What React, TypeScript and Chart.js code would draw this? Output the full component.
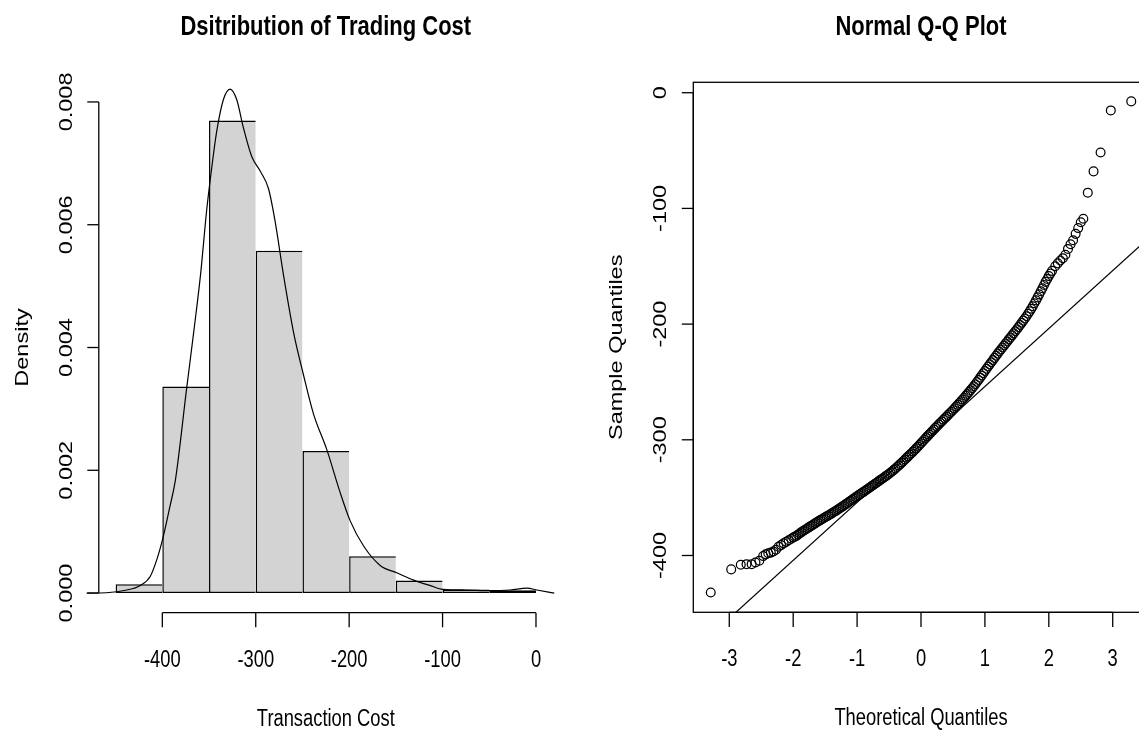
import React, { useEffect, useRef } from "react";
import { Chart, registerables } from "chart.js";

Chart.register(...registerables);

// ---------------- data ----------------
const histBreaks = [-450, -400, -350, -300, -250, -200, -150, -100, -50, 0];
const histDensity = [0.000145, 0.003363, 0.007697, 0.005574, 0.002316, 0.000599, 0.000204, 0.000058, 0.000047];

const densityX = [-481, -460, -438, -424, -413, -406, -399, -392, -386, -374, -366, -359, -352.5, -347, -341.8, -334.6, -327.5, -320.4, -313.2, -304.3, -295.4, -286.4, -279.3, -270.4, -259.7, -249, -238.2, -224, -209.7, -199, -184.7, -166.8, -149, -131, -113, -99.7, -74, -50, -27.6, -9.7, 1, 19.5];
const densityY = [0, 0.000005, 0.00005, 0.00012, 0.00027, 0.00054, 0.00092, 0.0014, 0.00184, 0.00333, 0.0043, 0.0052, 0.00624, 0.00694, 0.00752, 0.00804, 0.00821, 0.00804, 0.00758, 0.00711, 0.00688, 0.00659, 0.00606, 0.00519, 0.00426, 0.00356, 0.00292, 0.00234, 0.00164, 0.00118, 0.00077, 0.00045, 0.00033, 0.00021, 0.00012, 0.00006, 0.00005, 0.00004, 0.00005, 0.00008, 0.00005, 0];

const histXTicks = [-400, -300, -200, -100, 0];
const histXTickLabels = ["-400", "-300", "-200", "-100", "0"];
const histYTicks = [0, 0.002, 0.004, 0.006, 0.008];
const histYTickLabels = ["0.000", "0.002", "0.004", "0.006", "0.008"];
const HIST_X_MIN = -468;
const HIST_X_MAX = 18;
const HIST_Y_MIN = -0.00032;
const HIST_Y_MAX = 0.00832;

// Q-Q points (tails + band)
const qqTheoretical = [
  -3.29, -2.97, -2.82, -2.73, -2.65, -2.59, -2.53, -2.47, -2.43, -2.39,
  -2.35, -2.31, -2.27, -2.23, -2.19, -2.15, -2.11, -2.07, -2.03, -2.0,
  -1.95, -1.9, -1.85, -1.8, -1.75, -1.7, -1.65, -1.6, -1.55, -1.5,
  -1.45, -1.4, -1.35, -1.3, -1.25, -1.2, -1.15, -1.1, -1.05, -1.0,
  -0.95, -0.9, -0.85, -0.8, -0.75, -0.7, -0.65, -0.6, -0.55, -0.5,
  -0.45, -0.4, -0.35, -0.3, -0.25, -0.2, -0.15, -0.1, -0.05, 0,
  0.05, 0.1, 0.15, 0.2, 0.25, 0.3, 0.35, 0.4, 0.45, 0.5,
  0.55, 0.6, 0.65, 0.7, 0.75, 0.8, 0.85, 0.9, 0.95, 1.0,
  1.05, 1.1, 1.15, 1.2, 1.25, 1.3, 1.35, 1.4, 1.45, 1.5,
  1.55, 1.6, 1.65, 1.7, 1.75, 1.8, 1.85, 1.9, 1.95, 2.0,
  2.05, 2.1, 2.14, 2.18, 2.22, 2.26, 2.3, 2.34, 2.38, 2.42,
  2.46, 2.5, 2.54, 2.61, 2.7, 2.81, 2.97, 3.29,
];
const qqSample = [
  -432, -412, -408, -407.5, -407.5, -406, -404.5, -400.5, -399, -398,
  -397.5, -396.5, -395, -392.5, -391, -389.5, -388.2, -386.8, -385.5, -384.5,
  -383, -381, -379, -377.3, -375.5, -373.8, -372, -370.3, -368.6, -367,
  -365.4, -363.8, -362, -360.3, -358.4, -356.6, -354.6, -352.7, -350.7, -348.8,
  -346.9, -345, -343.1, -341.2, -339.2, -337.3, -335.3, -333.4, -331.4, -329.4,
  -327.2, -324.8, -322.3, -319.7, -317, -314.3, -311.6, -308.8, -306, -303,
  -300, -297, -294.1, -291.2, -288.3, -285.5, -282.7, -280, -277.1, -274.3,
  -271.3, -268.3, -265.2, -262, -258.8, -255.5, -252, -248.3, -244.4, -240.5,
  -236.7, -233, -229.2, -225.5, -222, -218.5, -215, -211.5, -208, -204.5,
  -200.8, -197, -193.2, -189, -184.5, -179.5, -174.3, -169, -163.5, -158.5,
  -154, -150, -147.5, -145, -143, -140, -135, -131, -127.5, -122,
  -117, -112, -109, -86.4, -68, -51.7, -15.3, -7.5,
];
// further points read along the dense band
const qqTheoreticalBand = [
  -1.975, -1.925, -1.875, -1.825, -1.775, -1.725, -1.675, -1.625, -1.575, -1.525,
  -1.475, -1.425, -1.375, -1.325, -1.275, -1.225, -1.175, -1.125, -1.075, -1.025,
  -0.975, -0.925, -0.875, -0.825, -0.775, -0.725, -0.675, -0.625, -0.575, -0.525,
  -0.475, -0.425, -0.375, -0.325, -0.275, -0.225, -0.175, -0.125, -0.075, -0.025,
  0.025, 0.075, 0.125, 0.175, 0.225, 0.275, 0.325, 0.375, 0.425, 0.475,
  0.525, 0.575, 0.625, 0.675, 0.725, 0.775, 0.825, 0.875, 0.925, 0.975,
  1.025, 1.075, 1.125, 1.175, 1.225, 1.275, 1.325, 1.375, 1.425, 1.475,
  1.525, 1.575, 1.625, 1.675, 1.725, 1.775, 1.825, 1.875, 1.925, 1.975,
  2.025,
];
const qqSampleBand = [
  -383.8, -382, -380, -378.2, -376.4, -374.6, -372.9, -371.1, -369.4, -367.8,
  -366.2, -364.6, -362.9, -361.2, -359.3, -357.5, -355.6, -353.6, -351.7, -349.7,
  -347.8, -345.9, -344, -342.1, -340.2, -338.2, -336.3, -334.3, -332.4, -330.4,
  -328.3, -326, -323.5, -321, -318.3, -315.6, -312.9, -310.2, -307.4, -304.5,
  -301.5, -298.5, -295.5, -292.6, -289.7, -286.9, -284.1, -281.3, -278.5, -275.7,
  -272.8, -269.8, -266.7, -263.6, -260.4, -257.1, -253.7, -250.1, -246.3, -242.4,
  -238.6, -234.8, -231.1, -227.3, -223.7, -220.2, -216.7, -213.2, -209.7, -206.2,
  -202.6, -198.9, -195.1, -191.1, -186.8, -182, -176.9, -171.6, -166.2, -161,
  -156.2,
];
const qqLineIntercept = -304;
const qqLineSlope = 50.1;

const qqXTicks = [-3, -2, -1, 0, 1, 2, 3];
const qqXTickLabels = ["-3", "-2", "-1", "0", "1", "2", "3"];
const qqYTicks = [0, -100, -200, -300, -400];
const qqYTickLabels = ["0", "-100", "-200", "-300", "-400"];
const QQ_X_MIN = -3.563;
const QQ_X_MAX = 3.563;
const QQ_Y_MIN = -449.1;
const QQ_Y_MAX = 9;

// ---------------- styling helpers ----------------
const FONT = '"Liberation Sans", Arial, Helvetica, sans-serif';
const SQUEEZE = 0.78;
const BASE_PX = 23.5;
const TITLE_PX = 28.2;
const X_TICK_LEN = 14.6;
const Y_TICK_LEN = 11.5;
const LW = 1.3;
const BAR_LW = 1.5;

function drawHText(ctx: CanvasRenderingContext2D, text: string, x: number, cy: number, px: number, bold = false) {
  ctx.save();
  ctx.font = `${bold ? "bold " : ""}${px}px ${FONT}`;
  ctx.translate(x, cy + 0.358 * px);
  ctx.scale(SQUEEZE, 1);
  ctx.textAlign = "center";
  ctx.textBaseline = "alphabetic";
  ctx.fillText(text, 0, 0);
  ctx.restore();
}

function drawVText(ctx: CanvasRenderingContext2D, text: string, cx: number, y: number, px: number) {
  ctx.save();
  ctx.font = `${px}px ${FONT}`;
  ctx.translate(cx, y);
  ctx.rotate(-Math.PI / 2);
  ctx.scale(1, SQUEEZE);
  ctx.textAlign = "center";
  ctx.textBaseline = "alphabetic";
  ctx.fillText(text, 0, 0.358 * px);
  ctx.restore();
}

type AxesCfg = {
  id: string;
  box: boolean;
  xTicks: number[];
  xTickLabels: string[];
  yTicks: number[];
  yTickLabels: string[];
  title: string;
  xTitle: string;
  yTitle: string;
};

function makeAxesPlugin(cfg: AxesCfg) {
  return {
    id: "rAxes_" + cfg.id,
    afterDraw(chart: any) {
      const ctx: CanvasRenderingContext2D = chart.ctx;
      const a = chart.chartArea;
      const xs = chart.scales.x;
      const ys = chart.scales.y;
      ctx.save();
      ctx.strokeStyle = "#000";
      ctx.fillStyle = "#000";
      ctx.lineWidth = LW;
      const seg = (x1: number, y1: number, x2: number, y2: number) => {
        ctx.beginPath();
        ctx.moveTo(x1, y1);
        ctx.lineTo(x2, y2);
        ctx.stroke();
      };
      if (cfg.box) ctx.strokeRect(a.left, a.top, a.right - a.left, a.bottom - a.top);
      const xp = cfg.xTicks.map((v) => xs.getPixelForValue(v));
      seg(xp[0], a.bottom, xp[xp.length - 1], a.bottom);
      xp.forEach((p, i) => {
        seg(p, a.bottom, p, a.bottom + X_TICK_LEN);
        drawHText(ctx, cfg.xTickLabels[i], p, a.bottom + 45.5, BASE_PX);
      });
      const yp = cfg.yTicks.map((v) => ys.getPixelForValue(v));
      seg(a.left, yp[0], a.left, yp[yp.length - 1]);
      yp.forEach((p, i) => {
        seg(a.left - Y_TICK_LEN, p, a.left, p);
        drawVText(ctx, cfg.yTickLabels[i], a.left - 33.5, p, BASE_PX);
      });
      const cx = (a.left + a.right) / 2;
      const cy = (a.top + a.bottom) / 2;
      drawHText(ctx, cfg.title, cx, 25, TITLE_PX, true);
      drawHText(ctx, cfg.xTitle, cx, a.bottom + 104.5, BASE_PX);
      drawVText(ctx, cfg.yTitle, a.left - 77.5, cy, BASE_PX);
      ctx.restore();
    },
  };
}

const commonOptions = {
  responsive: false,
  animation: false,
  events: [],
  plugins: {
    legend: { display: false },
    title: { display: false },
    tooltip: { enabled: false },
  },
};

function histConfig(): any {
  const bars = histDensity.map((d, i) => ({ x: (histBreaks[i] + histBreaks[i + 1]) / 2, y: d }));
  const last = histDensity.length - 1;
  return {
    type: "bar",
    data: {
      datasets: [
        {
          type: "line",
          data: densityX.map((x, i) => ({ x, y: densityY[i] })),
          borderColor: "#000",
          borderWidth: 1.2,
          pointRadius: 0,
          cubicInterpolationMode: "monotone",
          fill: false,
          clip: false,
          order: 0,
        },
        {
          type: "bar",
          data: bars,
          backgroundColor: "#d3d3d3",
          borderColor: "#000",
          borderWidth: (c: any) => ({ top: BAR_LW, left: BAR_LW, bottom: BAR_LW, right: c.dataIndex === last ? BAR_LW : 0 }),
          borderSkipped: false,
          barPercentage: 1,
          categoryPercentage: 1,
          inflateAmount: 0,
          order: 1,
        },
      ],
    },
    options: {
      ...commonOptions,
      layout: { padding: { left: 98.8, top: 82.3, right: 17.2, bottom: 118.3 } },
      scales: {
        x: {
          type: "linear",
          min: HIST_X_MIN,
          max: HIST_X_MAX,
          display: false,
          offset: false,
          afterBuildTicks: (s: any) => {
            s.ticks = histXTicks.map((v) => ({ value: v }));
          },
        },
        y: { type: "linear", min: HIST_Y_MIN, max: HIST_Y_MAX, display: false },
      },
    },
    plugins: [
      makeAxesPlugin({
        id: "hist",
        box: false,
        xTicks: histXTicks,
        xTickLabels: histXTickLabels,
        yTicks: histYTicks,
        yTickLabels: histYTickLabels,
        title: "Dsitribution of Trading Cost",
        xTitle: "Transaction Cost",
        yTitle: "Density",
      }),
    ],
  };
}

function qqConfig(): any {
  const pts = qqTheoretical
    .map((x, i) => ({ x, y: qqSample[i] }))
    .concat(qqTheoreticalBand.map((x, i) => ({ x, y: qqSampleBand[i] })));
  return {
    type: "scatter",
    data: {
      datasets: [
        {
          data: pts,
          pointStyle: "circle",
          pointRadius: 4.4,
          borderWidth: 1.25,
          borderColor: "#000",
          backgroundColor: "rgba(0,0,0,0)",
          showLine: false,
        },
        {
          type: "line",
          data: [
            { x: QQ_X_MIN, y: qqLineIntercept + qqLineSlope * QQ_X_MIN },
            { x: QQ_X_MAX, y: qqLineIntercept + qqLineSlope * QQ_X_MAX },
          ],
          borderColor: "#000",
          borderWidth: 1.2,
          pointRadius: 0,
          fill: false,
          showLine: true,
        },
      ],
    },
    options: {
      ...commonOptions,
      layout: { padding: { left: 123.3, top: 82.3, right: 21.3, bottom: 118.7 } },
      scales: {
        x: { type: "linear", min: QQ_X_MIN, max: QQ_X_MAX, display: false },
        y: { type: "linear", min: QQ_Y_MIN, max: QQ_Y_MAX, display: false },
      },
    },
    plugins: [
      makeAxesPlugin({
        id: "qq",
        box: true,
        xTicks: qqXTicks,
        xTickLabels: qqXTickLabels,
        yTicks: qqYTicks,
        yTickLabels: qqYTickLabels,
        title: "Normal Q-Q Plot",
        xTitle: "Theoretical Quantiles",
        yTitle: "Sample Quantiles",
      }),
    ],
  };
}

function ChartCanvas({ left, width, makeConfig }: { left: number; width: number; makeConfig: () => any }) {
  const ref = useRef<HTMLCanvasElement | null>(null);
  useEffect(() => {
    if (!ref.current) return;
    const chart = new Chart(ref.current, makeConfig());
    return () => chart.destroy();
  }, []);
  return (
    <canvas
      ref={ref}
      width={width}
      height={731}
      style={{ position: "absolute", left, top: 0, width, height: 731, display: "block" }}
    />
  );
}

export default function App() {
  return (
    <div
      style={{
        position: "absolute",
        left: 0,
        top: 0,
        width: 1139,
        height: 731,
        overflow: "hidden",
        background: "#ffffff",
      }}
    >
      <ChartCanvas left={0} width={570} makeConfig={histConfig} />
      <ChartCanvas left={570} width={600} makeConfig={qqConfig} />
    </div>
  );
}
